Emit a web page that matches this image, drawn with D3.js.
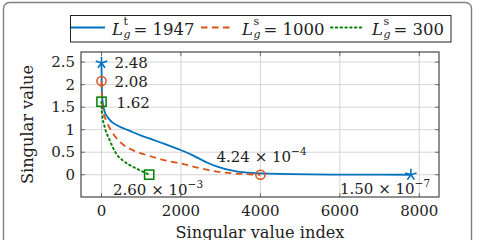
<!DOCTYPE html>
<html><head><meta charset="utf-8">
<script src="https://cdn.jsdelivr.net/npm/d3@7"></script>
<style>
body{margin:0;background:#fff;}
svg{display:block;}
text{font-family:"DejaVu Serif",serif;fill:#222;}
</style></head>
<body><svg id="c" width="478" height="240"></svg>
<script>
// ---------- data ----------
const blueX  = [0, 5, 15, 40, 80, 150, 250, 450, 670, 1000, 1300, 1600, 1900, 2100, 2300, 2500, 2700, 2900, 3100, 3400, 3800, 4200, 4800, 6000, 7000, 7788];
const blueY  = [2.48, 2.0, 1.75, 1.55, 1.40, 1.28, 1.18, 1.07, 0.99, 0.87, 0.775, 0.68, 0.58, 0.51, 0.43, 0.34, 0.255, 0.185, 0.13, 0.075, 0.04, 0.025, 0.012, 0.004, 0.001, 0.00000015];
const orangeX = [0, 10, 40, 120, 250, 500, 800, 1200, 1600, 2000, 2500, 2900, 3500, 4000];
const orangeY = [2.08, 1.7, 1.42, 1.2, 0.97, 0.70, 0.54, 0.42, 0.32, 0.25, 0.14, 0.07, 0.02, 0.000424];
const greenX = [0, 13, 80, 200, 370, 580, 830, 1040, 1200];
const greenY = [1.62, 1.36, 1.06, 0.78, 0.47, 0.29, 0.16, 0.07, 0.0026];
const xTicks = [0, 2000, 4000, 6000, 8000];
const yTicks = [0, 0.5, 1, 1.5, 2, 2.5];
const legendSup = ["t", "s", "s"];
const legendVal = ["1947", "1000", "300"];
const startLabels = ["2.48", "2.08", "1.62"];
const endMant = ["1.50", "4.24", "2.60"];
const endExp = ["\u22127", "\u22124", "\u22123"];
const colors = ["#0072BD", "#D95319", "#008000"];

// ---------- layout ----------
const svg = d3.select("#c");
const L = 81, R = 439, T = 52, B = 197;
const x = d3.scaleLinear().domain([-516, 8496]).range([L, R]);
const y = d3.scaleLinear().domain([-0.4934, 2.7235]).range([B, T]);

// outer frame
svg.append("rect").attr("x", 3.5).attr("y", 2.5).attr("width", 468).attr("height", 260)
  .attr("rx", 6).attr("fill", "none").attr("stroke", "#808080").attr("stroke-width", 1.4);

// grid
const grid = svg.append("g").attr("stroke", "#d4d4d4").attr("stroke-width", 1);
xTicks.forEach(t => grid.append("line").attr("x1", x(t)).attr("x2", x(t)).attr("y1", T).attr("y2", B));
yTicks.forEach(t => grid.append("line").attr("y1", y(t)).attr("y2", y(t)).attr("x1", L).attr("x2", R));

// ticks (inward on all sides)
const tk = svg.append("g").attr("stroke", "#555").attr("stroke-width", 0.8);
xTicks.forEach(t => {
  tk.append("line").attr("x1", x(t)).attr("x2", x(t)).attr("y1", B).attr("y2", B - 4);
  tk.append("line").attr("x1", x(t)).attr("x2", x(t)).attr("y1", T).attr("y2", T + 4);
});
yTicks.forEach(t => {
  tk.append("line").attr("y1", y(t)).attr("y2", y(t)).attr("x1", L).attr("x2", L + 4);
  tk.append("line").attr("y1", y(t)).attr("y2", y(t)).attr("x1", R).attr("x2", R - 4);
});

// axis frame
svg.append("rect").attr("x", L).attr("y", T).attr("width", R - L).attr("height", B - T)
  .attr("fill", "none").attr("stroke", "#222").attr("stroke-width", 1);

// tick labels
const fs = 15;
xTicks.forEach(t => svg.append("text").attr("x", x(t)).attr("y", 216).attr("text-anchor", "middle")
  .attr("font-size", fs).text(d3.format("")(t)));
yTicks.forEach(t => svg.append("text").attr("x", 75).attr("y", y(t) + 5).attr("text-anchor", "end")
  .attr("font-size", fs).text(d3.format("")(t)));

// axis labels
svg.append("text").attr("x", (L + R) / 2).attr("y", 237.5).attr("text-anchor", "middle")
  .attr("font-size", 16.2).text("Singular value index");
svg.append("text").attr("transform", `translate(33,${(T + B) / 2}) rotate(-90)`).attr("text-anchor", "middle")
  .attr("font-size", 16.2).text("Singular value");

// curves
const series = [[blueX, blueY], [orangeX, orangeY], [greenX, greenY]];
const dashes = [null, "6.5,4.5", "1.4,3.4"];
const line = d3.line().x(d => x(d[0])).y(d => y(d[1])).curve(d3.curveMonotoneX);
const plot = svg.append("g");
series.forEach((s, i) => {
  const pts = s[0].map((v, j) => [v, s[1][j]]);
  plot.append("path").attr("d", line(pts)).attr("fill", "none").attr("stroke", colors[i])
    .attr("stroke-width", i === 2 ? 2 : 1.8).attr("stroke-dasharray", dashes[i])
    .attr("stroke-linecap", i === 2 ? "round" : "butt");
});

// markers
function star(g, cx, cy, col) {
  for (let k = 0; k < 5; k++) {
    const a = (90 + k * 72) * Math.PI / 180;
    g.append("line").attr("x1", cx).attr("y1", cy).attr("x2", cx + 6 * Math.cos(a)).attr("y2", cy - 6 * Math.sin(a))
      .attr("stroke", col).attr("stroke-width", 1.6);
  }
}
function circ(g, cx, cy, col) {
  g.append("circle").attr("cx", cx).attr("cy", cy).attr("r", 4.6).attr("fill", "none")
    .attr("stroke", col).attr("stroke-width", 1.5);
}
function sq(g, cx, cy, col) {
  g.append("rect").attr("x", cx - 4.6).attr("y", cy - 4.6).attr("width", 9.2).attr("height", 9.2)
    .attr("fill", "none").attr("stroke", col).attr("stroke-width", 1.5);
}
const mk = [star, circ, sq];
series.forEach((s, i) => {
  const n = s[0].length - 1;
  mk[i](plot, x(s[0][0]), y(s[1][0]), colors[i]);
  mk[i](plot, x(s[0][n]), y(s[1][n]), colors[i]);
});

// start annotations
const startOff = [[13, 5.5], [13, 5.5], [15, 6]];
series.forEach((s, i) => {
  svg.append("text").attr("x", x(s[0][0]) + startOff[i][0]).attr("y", y(s[1][0]) + startOff[i][1])
    .attr("font-size", fs).text(startLabels[i]);
});

// end annotations
const endPos = [[340, 193.5], [216.5, 161.5], [113, 195]];
endMant.forEach((m, i) => {
  const t = svg.append("text").attr("x", endPos[i][0]).attr("y", endPos[i][1]).attr("font-size", fs);
  t.append("tspan").text(m + " \u00d7 10");
  t.append("tspan").attr("dy", -7).attr("font-size", 10.5).text(endExp[i]);
});

// legend
svg.append("rect").attr("x", 70.5).attr("y", 15.5).attr("width", 380.5).attr("height", 26.5)
  .attr("fill", "#fff").attr("stroke", "#222").attr("stroke-width", 1);
const legLine = [[71, 105], [201, 232], [331, 362]];
const legText = [112, 242, 372];
const lg = svg.append("g");
legendVal.forEach((v, i) => {
  lg.append("line").attr("x1", legLine[i][0]).attr("x2", legLine[i][1]).attr("y1", 27.5).attr("y2", 27.5)
    .attr("stroke", colors[i]).attr("stroke-width", i === 2 ? 2 : 1.8).attr("stroke-dasharray", dashes[i])
    .attr("stroke-linecap", i === 2 ? "round" : "butt");
  const Lt = lg.append("text").attr("x", legText[i]).attr("y", 34.5).attr("font-size", 16.5)
    .attr("font-style", "italic").text("L");
  const w = Lt.node().getComputedTextLength();
  const sx = legText[i] + w + 0.5;
  lg.append("text").attr("x", sx).attr("y", 25).attr("font-size", 11).text(legendSup[i]);
  lg.append("text").attr("x", sx).attr("y", 38).attr("font-size", 11).attr("font-style", "italic").text("g");
  lg.append("text").attr("x", sx + 10).attr("y", 34.5).attr("font-size", 16.5).text("= " + v);
});
</script></body></html>
